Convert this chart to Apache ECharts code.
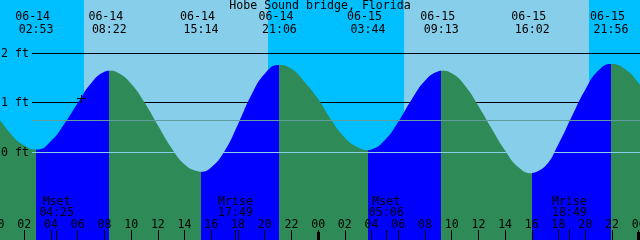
<!DOCTYPE html>
<html><head><meta charset="utf-8">
<script src="https://cdn.jsdelivr.net/npm/echarts@6/dist/echarts.min.js"></script>
<style>html,body{margin:0;padding:0;background:#00BFFF}#c{width:640px;height:240px}</style>
</head><body><div id="c"></div>
<script>
// ---------------- data ----------------
const TITLE = 'Hobe Sound bridge, Florida';
// hourly tide heights (ft), hours counted from 06-14 00:00
const tideHours = [0,1,2,3,4,5,6,7,8,9,10,11,12,13,14,15,16,17,18,19,20,21,22,23,24,
                   25,26,27,28,29,30,31,32,33,34,35,36,37,38,39,40,41,42,43,44,45,46,47,48,49];
const tideHeights = [0.73,0.37,0.14,0.06,0.23,0.58,1.00,1.40,1.63,1.61,1.39,1.01,0.55,0.10,-0.24,-0.38,
                     -0.30,0.03,0.57,1.16,1.59,1.77,1.69,1.42,1.08,0.65,0.30,0.10,0.06,0.25,0.62,1.07,
                     1.45,1.64,1.60,1.35,0.94,0.48,0.04,-0.30,-0.42,-0.28,0.17,0.73,1.27,1.66,1.79,1.68,1.40,1.02];
// high / low tide events
const extremeDates   = ['06-14','06-14','06-14','06-14','06-15','06-15','06-15','06-15'];
const extremeTimes   = ['02:53','08:22','15:14','21:06','03:44','09:13','16:02','21:56'];
const extremeHeights = [0.06, 1.65, -0.39, 1.77, 0.05, 1.65, -0.42, 1.79];
// moon events
const moonDates  = ['06-14','06-14','06-15','06-15'];
const moonTimes  = ['04:25','17:49','05:06','18:49'];
const moonEvents = ['Mset','Mrise','Mset','Mrise'];
// sun events
const sunriseDT = [['06-14','06:28'],['06-15','06:26']];
const sunsetDT  = [['06-14','20:15'],['06-15','20:17']];
// reference levels (ft)
const depthLevels = [0, 1, 2];
const meanLevel = 0.646;
// current-time mark
const nowDT = ['06-14','06:15'];
const nowHeight = 1.10;
// midnights (hours)
const midnightHours = [24, 48];

// ---------------- helpers / layout ----------------
const X_MIN = 0, X_MAX = 48.1;
const Y_MIN = -1.7677, Y_MAX = 3.0808;
const FONT_FAMILY = 'DejaVu Sans Mono';
const FONT_SIZE = 11.6;
const FONT = FONT_SIZE + 'px "' + FONT_FAMILY + '"';
const NIGHT = '#00BFFF', DAY = '#87CEEB', FLOOD = '#0000FF', EBB = '#2E8B57';
const MSL_COLOR = '#5F9EA0', DATUM_COLOR = '#87CEEB';
const GUTTER = 32;

function toHours(date, time) {
  const d = +date.slice(3, 5) - 14;
  const p = time.split(':').map(Number);
  return d * 24 + p[0] + p[1] / 60;
}
const extremeHours = extremeDates.map((d, i) => toHours(d, extremeTimes[i]));
const moonHours = moonDates.map((d, i) => toHours(d, moonTimes[i]));
const sunrise = sunriseDT.map(a => toHours(a[0], a[1]));
const sunset = sunsetDT.map(a => toHours(a[0], a[1]));
const nowHour = toHours(nowDT[0], nowDT[1]);

// tide data: hourly + extremes merged
const tideData = tideHours.map((h, i) => [h, tideHeights[i]])
  .concat(extremeHours.map((h, i) => [h, extremeHeights[i]]))
  .sort((a, b) => a[0] - b[0]);

// day/night bands
const bands = [];
let t = X_MIN;
for (let i = 0; i < sunrise.length; i++) {
  bands.push([t, sunrise[i], 0]);
  bands.push([sunrise[i], sunset[i], 1]);
  t = sunset[i];
}
bands.push([t, X_MAX, 0]);

// flood/ebb pieces (rising = flood)
const pieces = [{ lt: extremeHours[0], color: EBB }];
for (let i = 0; i < extremeHours.length; i++) {
  const rising = extremeHeights[i + 1] !== undefined ? extremeHeights[i + 1] > extremeHeights[i]
                                                      : extremeHeights[i] < extremeHeights[i - 1];
  const p = { gte: extremeHours[i], color: rising ? FLOOD : EBB };
  if (i + 1 < extremeHours.length) p.lt = extremeHours[i + 1];
  pieces.push(p);
}

const pad2 = v => String(((v % 24) + 24) % 24).padStart(2, '0');

const chart = echarts.init(document.getElementById('c'), null, { renderer: 'canvas' });
chart.setOption({
  animation: false,
  backgroundColor: NIGHT,
  title: {
    text: TITLE, left: 'center', top: 0, padding: 0,
    textStyle: { fontFamily: FONT_FAMILY, fontSize: FONT_SIZE, fontWeight: 'normal', color: '#000' }
  },
  grid: { left: -2.4, right: 0, top: 0, bottom: 0, containLabel: false, outerBoundsMode: 'none' },
  xAxis: {
    type: 'value', min: X_MIN, max: X_MAX, interval: 2, z: 10, position: 'bottom',
    axisLine: { show: false, onZero: false }, splitLine: { show: false },
    axisTick: { show: true, inside: true, length: 10, lineStyle: { color: '#000', width: 1 } },
    axisLabel: {
      inside: true, margin: 9, showMaxLabel: false, showMinLabel: true,
      fontFamily: FONT_FAMILY, fontSize: FONT_SIZE, color: '#000',
      formatter: v => pad2(v)
    }
  },
  yAxis: { type: 'value', min: Y_MIN, max: Y_MAX, show: false },
  visualMap: { type: 'piecewise', show: false, dimension: 0, seriesIndex: 2, pieces: pieces },
  series: [
    { // 0: day / night background
      type: 'custom', z: 1, silent: true,
      data: bands,
      renderItem(params, api) {
        const p0 = api.coord([api.value(0), Y_MAX]);
        const p1 = api.coord([api.value(1), Y_MIN]);
        return { type: 'rect', shape: { x: p0[0], y: p0[1], width: p1[0] - p0[0], height: p1[1] - p0[1] },
                 style: { fill: api.value(2) ? DAY : NIGHT } };
      }
    },
    { // 1: depth lines behind the tide
      type: 'custom', z: 2, silent: true,
      data: depthLevels.filter(v => v > 0).map(v => [X_MIN, v]),
      renderItem(params, api) {
        const v = api.value(1);
        const y = Math.round(api.coord([X_MIN, v])[1] - 0.5) + 0.5;
        return { type: 'group', children: [
          { type: 'line', shape: { x1: GUTTER, y1: y, x2: api.getWidth(), y2: y }, style: { stroke: '#000', lineWidth: 1 } },
          { type: 'text', style: { text: v + ' ft', x: GUTTER - 3, y: y, align: 'right', verticalAlign: 'middle', font: FONT, fill: '#000' } }
        ] };
      }
    },
    { // 2: tide curve
      type: 'line', z: 3, data: tideData, smooth: 0.5, symbol: 'none', showSymbol: false, silent: true,
      lineStyle: { width: 0, opacity: 0 }, areaStyle: { opacity: 1, origin: 'start' }, clip: true
    },
    { // 3: datum and mean level lines on top
      type: 'custom', z: 4, silent: true,
      data: [[X_MIN, 0, 1], [X_MIN, meanLevel, 0]],
      renderItem(params, api) {
        const v = api.value(1);
        const isDatum = api.value(2) === 1;
        const y = Math.round(api.coord([X_MIN, v])[1] - 0.5) + 0.5;
        const children = [
          { type: 'line', shape: { x1: GUTTER, y1: y, x2: api.getWidth(), y2: y },
            style: { stroke: isDatum ? DATUM_COLOR : MSL_COLOR, lineWidth: 1 } }
        ];
        if (isDatum) children.push({ type: 'text', style: { text: v + ' ft', x: GUTTER - 3, y: y, align: 'right', verticalAlign: 'middle', font: FONT, fill: '#000' } });
        return { type: 'group', children };
      }
    },
    { // 4: tide event labels at top
      type: 'custom', z: 6, silent: true,
      data: extremeHours.map((h, i) => [h, extremeHeights[i], i]),
      renderItem(params, api) {
        const i = api.value(2);
        const x = api.coord([api.value(0), 0])[0];
        return { type: 'group', children: [
          { type: 'text', style: { text: extremeDates[i] + ' ', x: x, y: 17.2, align: 'center', verticalAlign: 'middle', font: FONT, fill: '#000' } },
          { type: 'text', style: { text: extremeTimes[i], x: x, y: 29.6, align: 'center', verticalAlign: 'middle', font: FONT, fill: '#000' } }
        ] };
      }
    },
    { // 5: moon events at bottom
      type: 'custom', z: 6, silent: true,
      data: moonHours.map((h, i) => [h, Y_MIN, i]),
      renderItem(params, api) {
        const i = api.value(2);
        const p = api.coord([api.value(0), Y_MIN]);
        const xr = Math.floor(p[0]);
        return { type: 'group', children: [
          { type: 'text', style: { text: moonEvents[i], x: p[0], y: 202.4, align: 'center', verticalAlign: 'middle', font: FONT, fill: '#000' } },
          { type: 'text', style: { text: moonTimes[i], x: p[0], y: 213.2, align: 'center', verticalAlign: 'middle', font: FONT, fill: '#000' } },
          { type: 'rect', shape: { x: xr, y: p[1] - 10, width: 1, height: 10 }, style: { fill: '#000' } }
        ] };
      }
    },
    { // 6: midnight marks
      type: 'custom', z: 6, silent: true,
      data: midnightHours.map(h => [h, Y_MIN]),
      renderItem(params, api) {
        const p = api.coord([api.value(0), Y_MIN]);
        return { type: 'rect', shape: { x: Math.floor(p[0]) - 1, y: p[1] - 8, width: 3, height: 8 }, style: { fill: '#000' } };
      }
    },
    { // 7: current time mark
      type: 'custom', z: 6, silent: true,
      data: [[nowHour, nowHeight]],
      renderItem(params, api) {
        const p = api.coord([api.value(0), api.value(1)]);
        const cx = Math.floor(p[0]), cy = Math.floor(p[1]);
        return { type: 'group', children: [
          { type: 'rect', shape: { x: cx - 4, y: cy, width: 9, height: 1 }, style: { fill: '#000' } },
          { type: 'rect', shape: { x: cx, y: cy - 3, width: 1, height: 8 }, style: { fill: '#000' } }
        ] };
      }
    }
  ]
});
</script></body></html>
